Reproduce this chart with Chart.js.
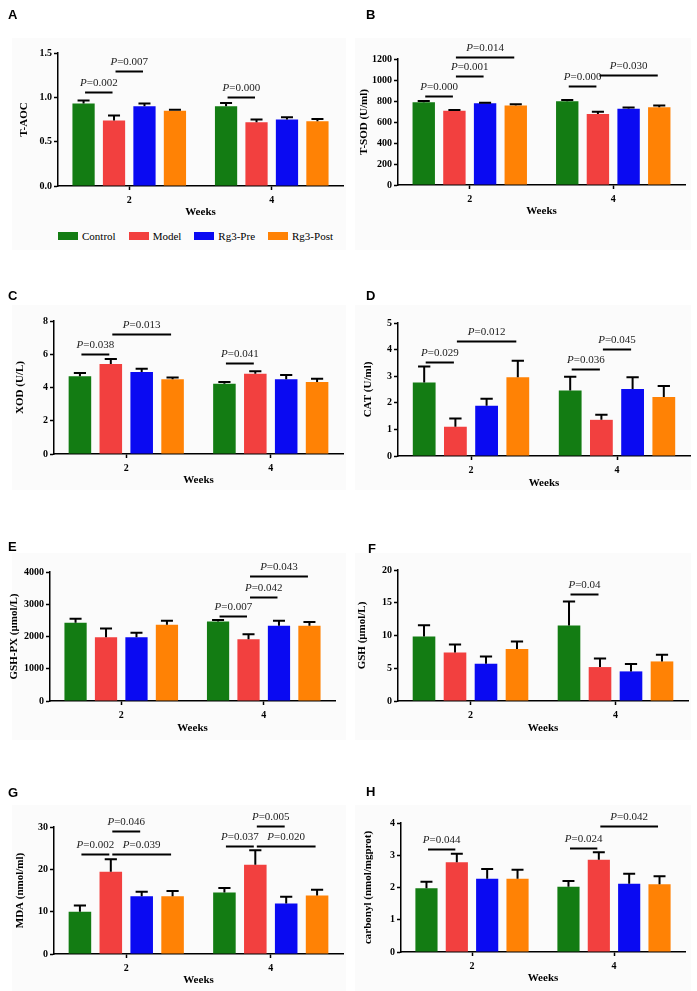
<!DOCTYPE html>
<html>
<head>
<meta charset="utf-8">
<script src="https://cdn.jsdelivr.net/npm/chart.js@4.4.1/dist/chart.umd.min.js"></script>
<style>
  html, body { margin: 0; padding: 0; background: #fff; }
  body { width: 697px; height: 991px; position: relative; overflow: hidden;
         font-family: "Liberation Serif", "Times New Roman", serif; }
  .panel-bg { position: absolute; background: #fbfbfb; }
  .letter { position: absolute; font: bold 13px "Liberation Sans", Arial, sans-serif; line-height: 13px; }
  canvas { position: absolute; }
  #legend { position: absolute; left: 58px; top: 229px; display: flex; align-items: center;
            font-size: 11px; line-height: 14px; white-space: nowrap; }
  #legend .item { display: flex; align-items: center; margin-right: 13px; }
  #legend .sw { width: 20px; height: 8px; margin-right: 4px; }
</style>
</head>
<body>
<div id="stage"></div>
<div id="legend"></div>
<script>
'use strict';

/* ── DATA ─────────────────────────────────────────────────────── */
const weeks  = ['2', '4'];
const groups = ['Control', 'Model', 'Rg3-Pre', 'Rg3-Post'];
const groupColors = ['#137c13', '#f2403f', '#0a0af2', '#ff8205'];

// each series row = one group, columns = weeks 2 / 4; err = upper SEM
// sig rows: [week index, from group, to group, line value, p value]

// A — T-AOC
const taocMean  = [[0.93, 0.90], [0.74, 0.72], [0.90, 0.75], [0.85, 0.73]];
const taocErr   = [[0.035, 0.035], [0.055, 0.03], [0.03, 0.025], [0.01, 0.025]];
const taocTicks = ['0.0', '0.5', '1.0', '1.5'];
const taocSig   = [[0, 0, 1, 1.055, '0.002'], [0, 1, 2, 1.293, '0.007'], [1, 0, 1, 1.006, '0.000']];

// B — T-SOD
const sodMean  = [[787, 797], [708, 676], [778, 727], [756, 740]];
const sodErr   = [[13, 13], [6, 22], [6, 10], [12, 16]];
const sodTicks = ['0', '200', '400', '600', '800', '1000', '1200'];
const sodSig   = [[0, 0, 1, 851, '0.000'], [0, 1, 2, 1038, '0.001'], [0, 1, 3, 1222, '0.014'],
                  [1, 0, 1, 940, '0.000'], [1, 1, 3, 1044, '0.030']];

// C — XOD
const xodMean  = [[4.67, 4.22], [5.41, 4.83], [4.93, 4.50], [4.50, 4.33]];
const xodErr   = [[0.20, 0.11], [0.30, 0.14], [0.20, 0.25], [0.10, 0.20]];
const xodTicks = ['0', '2', '4', '6', '8'];
const xodSig   = [[0, 0, 1, 6.02, '0.038'], [0, 1, 3, 7.24, '0.013'], [1, 0, 1, 5.47, '0.041']];

// D — CAT
const catMean  = [[2.76, 2.46], [1.10, 1.36], [1.89, 2.52], [2.96, 2.22]];
const catErr   = [[0.60, 0.52], [0.31, 0.19], [0.26, 0.44], [0.62, 0.41]];
const catTicks = ['0', '1', '2', '3', '4', '5'];
const catSig   = [[0, 0, 1, 3.53, '0.029'], [0, 1, 3, 4.33, '0.012'],
                  [1, 0, 1, 3.27, '0.036'], [1, 1, 2, 4.04, '0.045']];

// E — GSH-PX
const gpxMean  = [[2425, 2466], [1980, 1917], [1980, 2332], [2365, 2332]];
const gpxErr   = [[125, 42], [270, 156], [135, 155], [122, 114]];
const gpxTicks = ['0', '1000', '2000', '3000', '4000'];
const gpxSig   = [[1, 0, 1, 2642, '0.007'], [1, 1, 2, 3233, '0.042'], [1, 1, 3, 3876, '0.043']];

// F — GSH
const gshMean  = [[9.85, 11.52], [7.41, 5.18], [5.69, 4.52], [7.92, 6.04]];
const gshErr   = [[1.72, 3.66], [1.22, 1.32], [1.11, 1.11], [1.17, 1.02]];
const gshTicks = ['0', '5', '10', '15', '20'];
const gshSig   = [[1, 0, 1, 16.35, '0.04']];

// G — MDA
const mdaMean  = [[9.98, 14.53], [19.4, 21.1], [13.67, 11.94], [13.67, 13.8]];
const mdaErr   = [[1.5, 1.07], [3.0, 3.4], [1.02, 1.56], [1.23, 1.4]];
const mdaTicks = ['0', '10', '20', '30'];
const mdaSig   = [[0, 0, 1, 23.7, '0.002'], [0, 1, 2, 29.0, '0.046'], [0, 1, 3, 23.7, '0.039'],
                  [1, 0, 1, 25.45, '0.037'], [1, 1, 2, 30.2, '0.005'], [1, 1, 3, 25.45, '0.020']];

// H — carbonyl
const carMean  = [[1.98, 2.02], [2.78, 2.86], [2.27, 2.12], [2.27, 2.10]];
const carErr   = [[0.20, 0.18], [0.27, 0.23], [0.30, 0.31], [0.28, 0.25]];
const carTicks = ['0', '1', '2', '3', '4'];
const carSig   = [[0, 0, 1, 3.18, '0.044'], [1, 0, 1, 3.24, '0.024'], [1, 1, 3, 3.90, '0.042']];

/* ── LAYOUT (page pixels) ─────────────────────────────────────── */
const panels = [
  { letter: 'A', lx: 8,   ly: 19,  axisX: 58,  topY: 53,  bottomY: 186, rightX: 343, titleX: 25,  weeksY: 212,
    yTitle: 'T-AOC', mean: taocMean, err: taocErr, ticks: taocTicks, sig: taocSig },
  { letter: 'B', lx: 366, ly: 19,  axisX: 398, topY: 59,  bottomY: 185, rightX: 685, titleX: 365, weeksY: 211,
    yTitle: 'T-SOD (U/ml)', mean: sodMean, err: sodErr, ticks: sodTicks, sig: sodSig },
  { letter: 'C', lx: 8,   ly: 300, axisX: 54,  topY: 321, bottomY: 454, rightX: 343, titleX: 21,  weeksY: 480,
    yTitle: 'XOD (U/L)', mean: xodMean, err: xodErr, ticks: xodTicks, sig: xodSig },
  { letter: 'D', lx: 366, ly: 300, axisX: 398, topY: 323, bottomY: 456, rightX: 690, titleX: 369, weeksY: 483,
    yTitle: 'CAT (U/ml)', mean: catMean, err: catErr, ticks: catTicks, sig: catSig },
  { letter: 'E', lx: 8,   ly: 551, axisX: 50,  topY: 572, bottomY: 701, rightX: 335, titleX: 15,  weeksY: 728,
    yTitle: 'GSH-PX (μmol/L)', mean: gpxMean, err: gpxErr, ticks: gpxTicks, sig: gpxSig },
  { letter: 'F', lx: 368, ly: 553, axisX: 398, topY: 570, bottomY: 701, rightX: 688, titleX: 363, weeksY: 728,
    yTitle: 'GSH (μmol/L)', mean: gshMean, err: gshErr, ticks: gshTicks, sig: gshSig },
  { letter: 'G', lx: 8,   ly: 797, axisX: 54,  topY: 827, bottomY: 954, rightX: 343, titleX: 21,  weeksY: 980,
    yTitle: 'MDA (nmol/ml)', mean: mdaMean, err: mdaErr, ticks: mdaTicks, sig: mdaSig },
  { letter: 'H', lx: 366, ly: 796, axisX: 401, topY: 823, bottomY: 952, rightX: 685, titleX: 369, weeksY: 978,
    yTitle: 'carbonyl (nmol/mgprot)', mean: carMean, err: carErr, ticks: carTicks, sig: carSig },
];

const panelBoxes = [
  [12, 38, 334, 212], [355, 38, 336, 212],
  [12, 305, 334, 185], [355, 305, 336, 185],
  [12, 553, 334, 187], [355, 553, 336, 187],
  [12, 805, 334, 186], [355, 805, 336, 186],
];

const SERIF = '"Liberation Serif", "Times New Roman", serif';
Chart.defaults.font.family = SERIF;
Chart.defaults.color = '#000';

/* ── ERROR BARS + SIGNIFICANCE LINES ──────────────────────────── */
function marksPlugin(p) {
  return {
    id: 'marks' + p.letter,
    afterDatasetsDraw(chart) {
      const { ctx } = chart;
      const y = chart.scales.y;
      ctx.save();
      ctx.strokeStyle = '#000';
      ctx.lineWidth = 2;

      p.err.forEach((row, g) => {
        const meta = chart.getDatasetMeta(g);
        row.forEach((e, w) => {
          const bar = meta.data[w];
          const top = y.getPixelForValue(p.mean[g][w] + e);
          const half = bar.width * 0.27;
          ctx.beginPath();
          ctx.moveTo(bar.x, bar.y);
          ctx.lineTo(bar.x, top);
          ctx.moveTo(bar.x - half, top);
          ctx.lineTo(bar.x + half, top);
          ctx.stroke();
        });
      });

      const italic = 'italic 11px ' + SERIF;
      const normal = '11px ' + SERIF;
      ctx.textAlign = 'left';
      ctx.textBaseline = 'alphabetic';
      ctx.fillStyle = '#222';
      p.sig.forEach(([w, a, b, v, pv]) => {
        const x1 = chart.getDatasetMeta(a).data[w].x + 1.5;
        const x2 = chart.getDatasetMeta(b).data[w].x - 1.5;
        const yy = Math.round(y.getPixelForValue(v)) + 0.5;
        ctx.beginPath();
        ctx.moveTo(x1, yy);
        ctx.lineTo(x2, yy);
        ctx.stroke();

        const rest = '=' + pv;
        ctx.font = italic;
        const wP = ctx.measureText('P').width;
        ctx.font = normal;
        const wR = ctx.measureText(rest).width;
        const x0 = (x1 + x2) / 2 - (wP + wR) / 2;
        ctx.font = italic;
        ctx.fillText('P', x0, yy - 6.5);
        ctx.font = normal;
        ctx.fillText(rest, x0 + wP, yy - 6.5);
      });
      ctx.restore();
    }
  };
}

function makePanel(p) {
  const padTop = 32, padRight = 4;
  const left = Math.round(p.axisX - (p.axisX - p.titleX + 10.6));
  const top = p.topY - padTop;
  const yW = p.axisX - left;
  const w = p.rightX + padRight - left;
  const h = Math.round(p.weeksY + 10.6 - top);
  const xH = top + h - p.bottomY;

  const canvas = document.createElement('canvas');
  canvas.width = w;
  canvas.height = h;
  canvas.style.left = left + 'px';
  canvas.style.top = top + 'px';
  canvas.style.width = w + 'px';
  canvas.style.height = h + 'px';
  document.getElementById('stage').appendChild(canvas);

  const letter = document.createElement('div');
  letter.className = 'letter';
  letter.textContent = p.letter;
  letter.style.left = p.lx + 'px';
  letter.style.top = (p.ly - 11) + 'px';
  document.getElementById('stage').appendChild(letter);

  const axisLine = { display: true, color: '#000', width: 1.5 };

  new Chart(canvas, {
    type: 'bar',
    data: {
      labels: weeks,
      datasets: groups.map((name, g) => ({
        label: name,
        data: p.mean[g],
        backgroundColor: groupColors[g],
        borderWidth: 0,
        barPercentage: 0.73,
        categoryPercentage: 0.855,
      })),
    },
    options: {
      responsive: false,
      animation: false,
      devicePixelRatio: 1,
      layout: { padding: { top: padTop, right: padRight, left: 0, bottom: 0 } },
      plugins: { legend: { display: false }, tooltip: { enabled: false } },
      scales: {
        x: {
          offset: true,
          border: axisLine,
          grid: { display: true, drawOnChartArea: false, drawTicks: true, tickLength: 4,
                  offset: false, tickColor: '#000', tickWidth: 1.5 },
          ticks: { font: { size: 10, weight: 'bold' }, padding: 4 },
          title: { display: true, text: 'Weeks', font: { size: 11, weight: 'bold' },
                   padding: { top: 4, bottom: 4 } },
          afterFit: s => { s.height = xH; },
        },
        y: {
          min: Number(p.ticks[0]),
          max: Number(p.ticks[p.ticks.length - 1]),
          border: axisLine,
          grid: { display: true, drawOnChartArea: false, drawTicks: true, tickLength: 4,
                  tickColor: '#000', tickWidth: 1.5 },
          afterBuildTicks: s => { s.ticks = p.ticks.map(t => ({ value: Number(t) })); },
          ticks: { font: { size: 10, weight: 'bold' }, padding: 2,
                   callback: (v, i) => p.ticks[i] },
          title: { display: true, text: p.yTitle, font: { size: 11, weight: 'bold' },
                   padding: { top: 4, bottom: 4 } },
          afterFit: s => { s.width = yW; },
        },
      },
    },
    plugins: [marksPlugin(p)],
  });
}

/* ── BUILD ────────────────────────────────────────────────────── */
panelBoxes.forEach(([x, y, w, h]) => {
  const d = document.createElement('div');
  d.className = 'panel-bg';
  Object.assign(d.style, { left: x + 'px', top: y + 'px', width: w + 'px', height: h + 'px' });
  document.getElementById('stage').appendChild(d);
});

panels.forEach(makePanel);

document.getElementById('legend').innerHTML = groups.map((name, g) =>
  `<span class="item"><span class="sw" style="background:${groupColors[g]}"></span>${name}</span>`
).join('');
</script>
</body>
</html>
